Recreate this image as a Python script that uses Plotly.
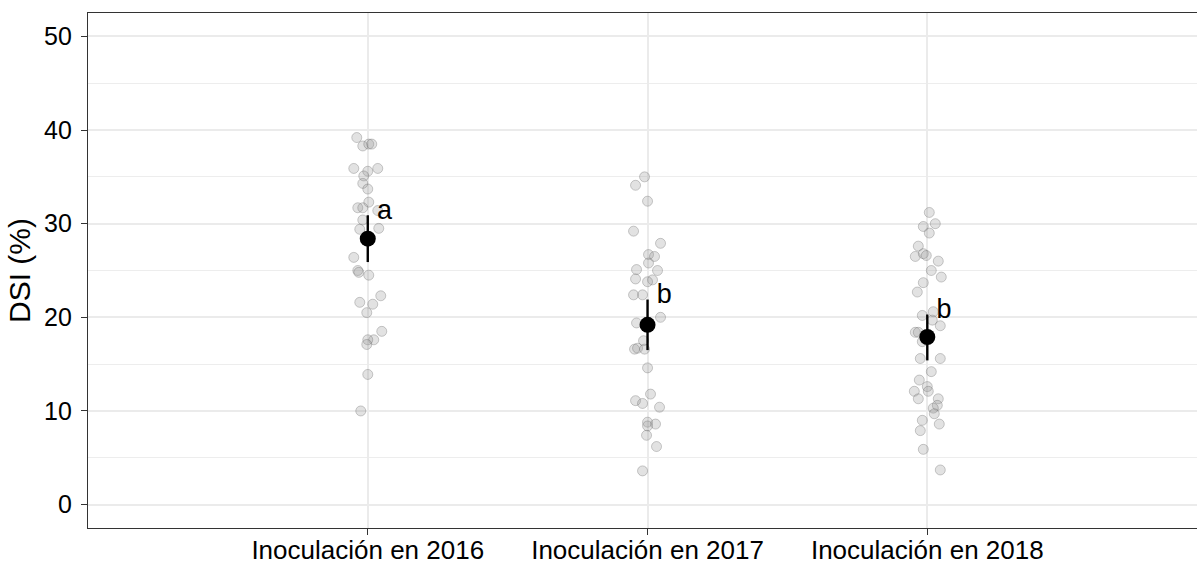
import plotly.graph_objects as go

groups = ["Inoculación en 2016", "Inoculación en 2017", "Inoculación en 2018"]

# individual DSI values (%) per group, with horizontal jitter (px of a 280 px category step)
dsi_2016 = [39.2, 38.3, 38.5, 38.5, 35.9, 35.9, 35.6, 35.1, 34.3, 33.7, 32.3, 31.7, 31.7,
            31.4, 30.4, 29.4, 29.5, 26.4, 25.0, 24.8, 24.5, 21.6, 22.3, 21.4, 20.5, 18.5,
            17.6, 17.6, 17.1, 13.9, 10.0]
jit_2016 = [-11, -5, 1, 4, -14, 10, 0, -4, -5, 0, 1, -10, -5, 10, -5, -8, 11, -14, -10, -9,
            1, -8, 13, 5, -1, 14, 6, 0, -1, 0, -7]

dsi_2017 = [35.0, 34.1, 32.4, 29.2, 27.9, 26.7, 26.5, 25.8, 25.1, 25.0, 24.1, 24.0, 23.8,
            22.4, 22.4, 20.0, 19.4, 17.5, 16.6, 16.7, 16.6, 14.6, 11.8, 11.1, 10.8, 10.4,
            8.8, 8.6, 8.4, 7.4, 6.2, 3.6]
jit_2017 = [-3, -12, 0, -14, 13, 1, 7, 1, -11, 10, -12, 5, 0, -14, -5, 13, -11, -4, -13,
            -10, -3, 0, 3, -12, -5, 12, 0, 8, 0, -1, 9, -5]

dsi_2018 = [31.2, 29.7, 30.0, 29.0, 27.6, 26.5, 26.8, 26.6, 26.0, 25.0, 24.3, 23.7, 22.7,
            20.2, 20.6, 19.1, 18.4, 18.4, 19.7, 17.4, 15.6, 15.6, 14.2, 13.3, 12.6, 12.1,
            12.1, 11.3, 11.3, 10.6, 10.3, 9.7, 9.0, 8.6, 7.9, 5.9, 3.7]
jit_2018 = [2, -4, 8, 2, -9, -12, -4, -1, 11, 4, 14, -4, -10, -5, 6, 13, -12, -9, 5, -5,
            -7, 13, 4, -8, 0, -13, 1, -9, 11, 10, 6, 7, -5, 12, -7, -4, 13]

means = [28.4, 19.2, 17.9]
ci_low = [25.9, 16.5, 15.4]
ci_high = [30.9, 21.9, 20.3]
letters = ["a", "b", "b"]

raw = [(dsi_2016, jit_2016), (dsi_2017, jit_2017), (dsi_2018, jit_2018)]

fig = go.Figure()

for i, (vals, jit) in enumerate(raw):
    fig.add_trace(go.Scatter(
        x=[i + j / 280 for j in jit], y=vals, mode="markers",
        marker=dict(size=10, color="rgba(150,150,150,0.28)",
                    line=dict(width=1, color="rgba(90,90,90,0.3)")),
        hoverinfo="y", showlegend=False))

fig.add_trace(go.Scatter(
    x=list(range(len(groups))), y=means, mode="markers",
    marker=dict(size=16, color="black"),
    error_y=dict(type="data", symmetric=False,
                 array=[h - m for h, m in zip(ci_high, means)],
                 arrayminus=[m - l for m, l in zip(means, ci_low)],
                 color="black", thickness=2.4, width=0),
    showlegend=False))

fig.add_trace(go.Scatter(
    x=[i + 0.06 for i in range(len(groups))], y=[h + 0.3 for h in ci_high],
    mode="text", text=letters, textposition="middle center",
    textfont=dict(size=27, color="black", family="Liberation Sans, Arial"),
    hoverinfo="skip", showlegend=False))

fig.update_layout(
    width=1197, height=565,
    margin=dict(l=88, r=0, t=13, b=37),
    paper_bgcolor="white", plot_bgcolor="white",
    font=dict(family="Liberation Sans, Arial", size=25, color="black"),
    xaxis=dict(range=[-1, 2.964], tickvals=[0, 1, 2], ticktext=groups,
               tickfont=dict(size=26),
               showgrid=True, gridcolor="#EBEBEB", gridwidth=1.5, zeroline=False,
               showline=True, linecolor="#333333", linewidth=1.2, mirror=True,
               ticks="outside", ticklen=6, tickcolor="#333333",
               ticklabelstandoff=-7, automargin=False),
    yaxis=dict(range=[-2.5, 52.5], tickvals=[0, 10, 20, 30, 40, 50],
               showgrid=True, gridcolor="#EBEBEB", gridwidth=1.5, zeroline=False,
               minor=dict(tickvals=[5, 15, 25, 35, 45], showgrid=True,
                          gridcolor="#EDEDED", gridwidth=0.9),
               showline=True, linecolor="#333333", linewidth=1.2,
               ticks="outside", ticklen=6, tickcolor="#333333",
               ticklabelstandoff=4, automargin=False,
               title=dict(text="DSI (%)", standoff=4)),
)

fig.write_html("out.html", config={"displayModeBar": False},
               post_script="document.body.style.margin='0';")
